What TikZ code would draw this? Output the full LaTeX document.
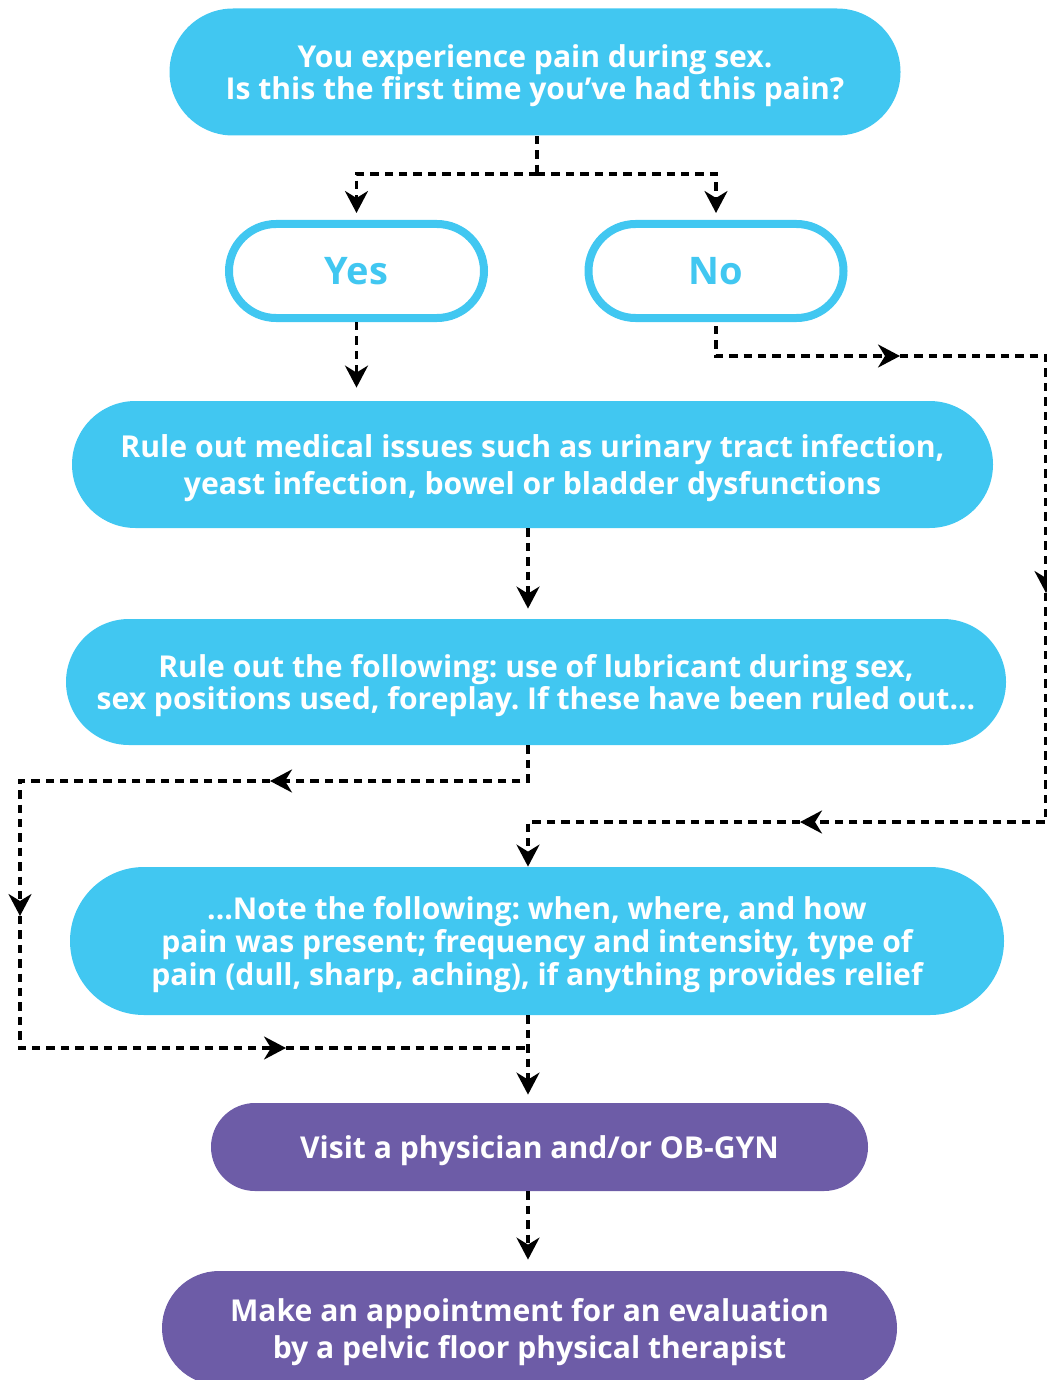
\documentclass[tikz,border=0pt]{standalone}
\usepackage{fontspec}
\setmainfont{Open Sans}
\frenchspacing
\usepackage{tikz}
\usetikzlibrary{arrows.meta}
\tikzset{>={Stealth[length=11pt,width=11.5pt,inset=3.5pt]}}
\usetikzlibrary{shapes.misc,positioning}
\definecolor{pillblue}{HTML}{41C7F1}
\definecolor{pillpurple}{HTML}{6D5CA7}
\tikzset{
    pill/.style={rounded rectangle,inner sep=0pt,text=white,align=center,text depth=0pt,
        font=\bfseries\fontsize{15.05}{16.4}\selectfont},
    bluepill/.style={pill,fill=pillblue},
    purplepill/.style={pill,fill=pillpurple},
    answer/.style={rounded rectangle,inner sep=0pt,draw=pillblue,line width=4pt,
        fill=white,text=pillblue,font=\bfseries\fontsize{19}{21}\selectfont,
        minimum width=127.5pt,minimum height=47pt},
    link/.style={line width=1.6pt,dash pattern=on 4.2pt off 3pt}
}

\begin{document}
\begin{tikzpicture}[x=0.5pt,y=-0.5pt]
    \useasboundingbox (0,0) rectangle (1047,1380);
    \node[bluepill,minimum width=365.5pt,minimum height=63.5pt] at (535,72) (start)
        {You experience pain during sex.\\Is this the first time you’ve had this pain?};
    \node[answer] at (356.5,271) (yes) {Yes};
    \node[answer] at (716,271) (no) {No};
    \node[bluepill,minimum width=460.5pt,minimum height=63.5pt,
        font=\bfseries\fontsize{15.1}{18.5}\selectfont] at (532.5,464.5) (medical)
        {Rule out medical issues such as urinary tract infection,\\yeast infection, bowel or bladder dysfunctions};
    \node[bluepill,minimum width=470pt,minimum height=63pt,
        font=\bfseries\fontsize{15.05}{16}\selectfont] at (536,682) (ruleout)
        {Rule out the following: use of lubricant during sex,\\sex positions used, foreplay. If these have been ruled out...};
    \node[bluepill,minimum width=467pt,minimum height=74pt] at (537,941) (notes)
        {...Note the following: when, where, and how\\pain was present; frequency and intensity, type of\\pain (dull, sharp, aching), if anything provides relief};
    \node[purplepill,minimum width=328.5pt,minimum height=44pt] at (539.5,1147) (visit)
        {Visit a physician and/or OB-GYN};
    \node[purplepill,minimum width=367.5pt,minimum height=57pt,
        font=\bfseries\fontsize{15.05}{18.5}\selectfont] at (529.5,1328) (therapist)
        {Make an appointment for an evaluation\\by a pelvic floor physical therapist};

    % bends of the connectors
    \coordinate (split) at (537,174);
    \coordinate (spine) at (528,0);
    \coordinate (east1) at (900,356);
    \coordinate (east2) at (1046,593);
    \coordinate (east3) at (800,822);
    \coordinate (west1) at (270,781);
    \coordinate (west2) at (20,916);
    \coordinate (west3) at (286,1048);

    \draw[link] (split |- start.south) -- (split);
    \draw[link,->,shorten >=3.5pt] (split) -| (yes.north);
    \draw[link,->,shorten >=3.5pt] (split) -| (no.north);
    \draw[link,->,shorten >=6.5pt] (yes.south) -- (yes.south |- medical.north);
    \draw[link,->,shorten <=2pt] (no.south) |- (east1);
    \draw[link,->] (east1) -| (east2);
    \draw[link,->] (east2) |- (east3);
    \draw[link,->] (east3) -| (spine |- notes.north);
    \draw[link,->,shorten >=5pt] (spine |- medical.south) -- (spine |- ruleout.north);
    \draw[link,->] (spine |- ruleout.south) |- (west1);
    \draw[link,->] (west1) -| (west2);
    \draw[link,->] (west2) |- (west3);
    \draw[link] (west3) -- (west3 -| spine);
    \draw[link,->,shorten >=4pt] (spine |- notes.south) -- (spine |- visit.north);
    \draw[link,->,shorten >=5.5pt] (spine |- visit.south) -- (spine |- therapist.north);
\end{tikzpicture}
\end{document}
